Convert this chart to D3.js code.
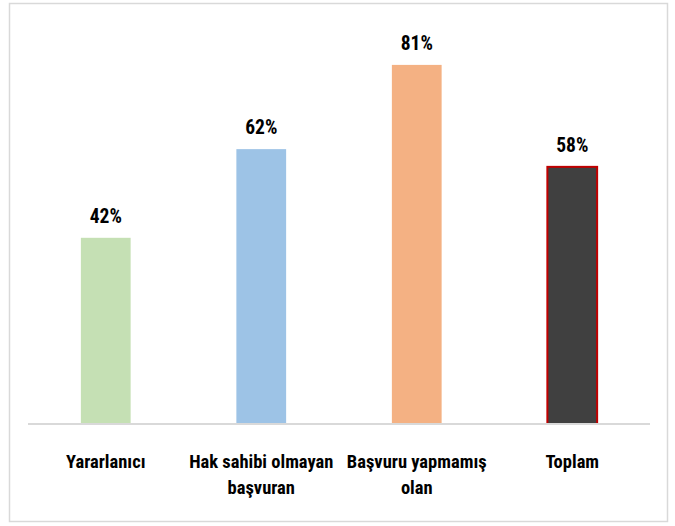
<!DOCTYPE html>
<html>
<head>
<meta charset="utf-8">
<script src="https://cdn.jsdelivr.net/npm/d3@7"></script>
<style>
  body { margin: 0; background: #fff; }
  text { font-family: "Liberation Sans Narrow", "Roboto Condensed", Roboto, sans-serif; font-weight: bold; fill: #000; }
</style>
</head>
<body>
<div id="chart"></div>
<script>
var categories = [["Yararlanıcı"], ["Hak sahibi olmayan", "başvuran"], ["Başvuru yapmamış", "olan"], ["Toplam"]];
var values = [0.42, 0.62, 0.81, 0.58];
var barColors = ["#C5E0B4", "#9DC3E6", "#F4B183", "#404040"];
var barStrokes = ["none", "none", "none", "#C00000"];

var width = 675, height = 526;
var margin = {top: 25, right: 25, bottom: 102, left: 28};

var svg = d3.select("#chart").append("svg")
  .attr("width", width)
  .attr("height", height);

// chart frame
svg.append("rect")
  .attr("x", 9.5).attr("y", 3.5)
  .attr("width", 658).attr("height", 518)
  .attr("fill", "#fff")
  .attr("stroke", "#D9D9D9")
  .attr("stroke-width", 1.5);

var x = d3.scaleBand()
  .domain(d3.range(categories.length))
  .range([margin.left, width - margin.right])
  .paddingInner(0.68)
  .paddingOuter(0.34);

var y = d3.scaleLinear()
  .domain([0, 0.9])
  .range([height - margin.bottom, margin.top]);

// bars
svg.append("g").selectAll("rect")
  .data(values)
  .enter().append("rect")
  .attr("x", function(d, i) { return x(i); })
  .attr("y", function(d) { return y(d); })
  .attr("width", x.bandwidth())
  .attr("height", function(d) { return y(0) - y(d); })
  .attr("fill", function(d, i) { return barColors[i]; })
  .attr("stroke", function(d, i) { return barStrokes[i]; })
  .attr("stroke-width", 2);

// baseline
svg.append("line")
  .attr("x1", margin.left).attr("x2", width - margin.right)
  .attr("y1", y(0)).attr("y2", y(0))
  .attr("stroke", "#D9D9D9")
  .attr("stroke-width", 2);

// value labels
svg.append("g").selectAll("text")
  .data(values)
  .enter().append("text")
  .attr("x", function(d, i) { return x(i) + x.bandwidth() / 2; })
  .attr("y", function(d) { return y(d) - 15; })
  .attr("text-anchor", "middle")
  .attr("font-size", 19.5)
  .text(function(d) { return d3.format(".0%")(d); });

// category labels
var cat = svg.append("g").selectAll("text")
  .data(categories)
  .enter().append("text")
  .attr("x", function(d, i) { return x(i) + x.bandwidth() / 2; })
  .attr("y", y(0) + 44)
  .attr("text-anchor", "middle")
  .attr("font-size", 18.5);

cat.selectAll("tspan")
  .data(function(d) { return d; })
  .enter().append("tspan")
  .attr("x", function() { return d3.select(this.parentNode).attr("x"); })
  .attr("dy", function(d, j) { return j === 0 ? 0 : 26; })
  .text(function(d) { return d; });
</script>
</body>
</html>
